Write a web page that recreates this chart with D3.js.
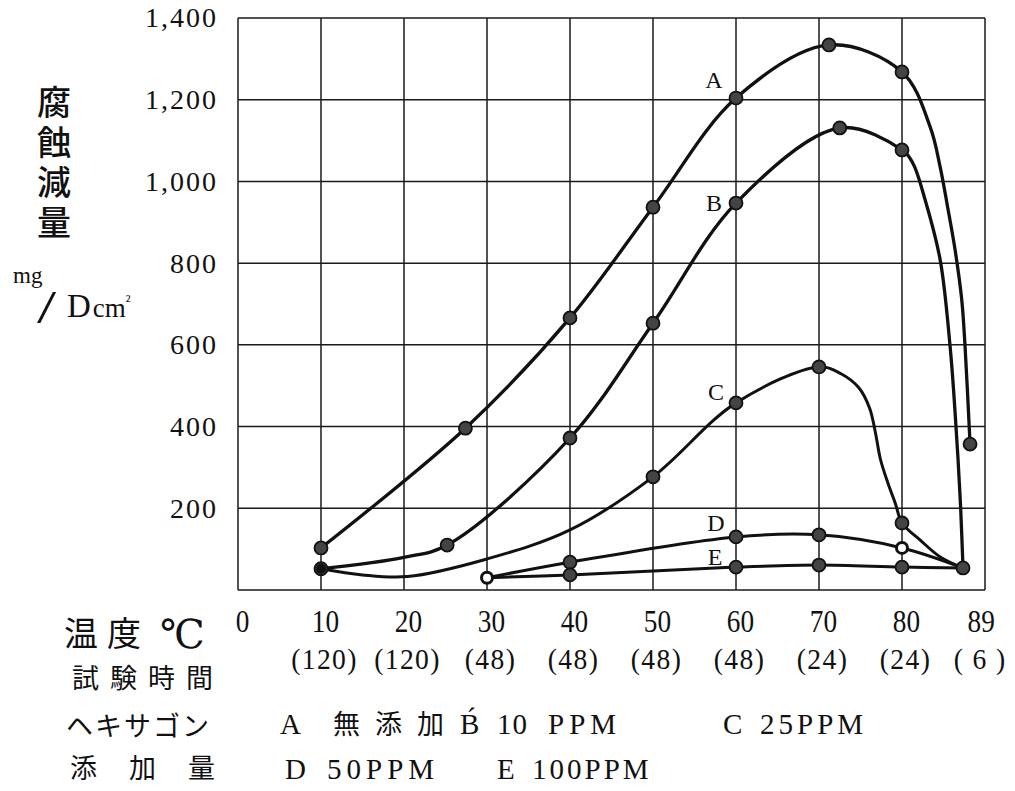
<!DOCTYPE html>
<html><head><meta charset="utf-8">
<script src="https://cdn.jsdelivr.net/npm/d3@7"></script>
<style>
body{margin:0;background:#fff}
.serif{font-family:"Liberation Serif","DejaVu Serif",serif;fill:#111}
.cjk{font-family:"Noto Sans CJK JP",sans-serif;fill:#111}
</style>
</head><body>
<svg id="chart" width="1015" height="791"></svg>
<script>
// ---------- data ----------
const tempTicks = [0,10,20,30,40,50,60,70,80,89];
const tempLabels = ["0","10","20","30","40","50","60","70","80","89"];
const timeTicks = [10,20,30,40,50,60,70,80,89];
const timeLabels = ["(120)","(120)","(48)","(48)","(48)","(48)","(24)","(24)","( 6 )"];
const yTicks = [200,400,600,800,1000,1200,1400];

// curve A: 無添加
const markersA = [[10,103],[27.4,396],[40,666],[50,937],[60,1204],[71.2,1334],[80,1268],[88.2,357]];
const pathA = [[10,103],[27.4,396],[40,666],[50,937],[60,1204],[71.2,1334],[80,1268],[83.4,1133],[84.6,1035],[85.5,937],[86.4,832],[87.2,710],[87.6,595],[88.2,357]];
// curve B: 10 PPM
const markersB = [[10,52],[25.2,110],[40,372],[50,653],[60,947],[72.5,1131],[80,1077],[87.35,54]];
const pathB = [[10,52],[20,80],[25.2,110],[40,372],[50,653],[60,947],[72.5,1131],[80,1077],[81.3,1045],[82.8,954],[84.6,808],[85.8,595],[86.4,433],[87.0,228],[87.35,54]];
// curve C: 25 PPM
const markersC = [[50,277],[60,458],[70,546],[80,164]];
const pathC = [[10,52],[15,37],[20.4,33],[30,76],[40,147],[50,277],[60,458],[70,546],[72.6,530],[74.8,495],[76.1,445],[76.8,385],[77.4,320],[78.3,262],[79.2,212],[80,164],[82.2,122],[84.6,81],[87.35,54]];
// curve D: 50 PPM
const markersD = [[40,68],[60,130],[70,135]];
const pathD = [[30,30],[40,68],[60,130],[70,135],[80,103],[87.35,54]];
// curve E: 100 PPM
const markersE = [[40,37],[60,56],[70,61],[80,56]];
const pathE = [[30,30],[40,37],[60,56],[70,61],[80,56],[87.35,54]];
// special markers
const openMarkers = [[30,30],[80,103]];
const startDot = [[10,52]];

const seriesNames = ["A","B","C","D","E"];

// ---------- layout ----------
const svg = d3.select("#chart");
const L = 238, R = 985, T = 18, B = 590;
const x = d3.scaleLinear().domain([0,90]).range([L,R]);
const y = d3.scaleLinear().domain([0,1400]).range([B,T]);

// grid
const g = svg.append("g");
g.selectAll("line.v").data(d3.range(0,91,10)).join("line")
  .attr("x1",d=>x(d)).attr("x2",d=>x(d)).attr("y1",T).attr("y2",B)
  .attr("stroke","#1a1a1a").attr("stroke-width",1.5);
g.selectAll("line.h").data(d3.range(0,1401,200)).join("line")
  .attr("x1",L).attr("x2",R).attr("y1",d=>y(d)).attr("y2",d=>y(d))
  .attr("stroke","#1a1a1a").attr("stroke-width",1.5);

// y axis
const ya = svg.append("g").attr("transform",`translate(${L},0)`)
  .call(d3.axisLeft(y).tickValues(yTicks).tickSize(0).tickPadding(20).tickFormat(d3.format(",")));
ya.select(".domain").remove();
ya.selectAll("text").attr("class","serif").attr("font-size",28).attr("letter-spacing",2).attr("fill","#111");

// x axis temps
const xa = svg.append("g").attr("transform",`translate(4,${B})`)
  .call(d3.axisBottom(x).tickValues(tempTicks).tickSize(0).tickPadding(20).tickFormat((d,i)=>tempLabels[i]));
xa.select(".domain").remove();
xa.selectAll("text").attr("class","serif").attr("font-size",31).attr("fill","#111")
  .attr("transform","scale(0.88,1)");

// x axis times
const ta = svg.append("g").attr("transform",`translate(3,${B})`)
  .call(d3.axisBottom(x).tickValues(timeTicks).tickSize(0).tickPadding(58).tickFormat((d,i)=>timeLabels[i]));
ta.select(".domain").remove();
ta.selectAll("text").attr("class","serif").attr("font-size",30).attr("fill","#111")
  .attr("letter-spacing",1.5).attr("transform","scale(0.92,1)").style("white-space","pre");

// lines
const line = d3.line().x(d=>x(d[0])).y(d=>y(d[1])).curve(d3.curveCatmullRom.alpha(0.5));
const paths = [pathA,pathB,pathC,pathD,pathE];
const widths = [3.3,3.3,3,3,3];
svg.append("g").selectAll("path").data(paths).join("path")
  .attr("d",line).attr("fill","none").attr("stroke","#111")
  .attr("stroke-width",(d,i)=>widths[i]).attr("stroke-linejoin","round");

// markers
const allMarkers = [].concat(markersA,markersB,markersC,markersD,markersE);
svg.append("g").selectAll("circle").data(allMarkers).join("circle")
  .attr("cx",d=>x(d[0])).attr("cy",d=>y(d[1])).attr("r",6.5)
  .attr("fill","#444").attr("stroke","#111").attr("stroke-width",1.8);
svg.append("g").selectAll("circle").data(openMarkers).join("circle")
  .attr("cx",d=>x(d[0])).attr("cy",d=>y(d[1])).attr("r",5.5)
  .attr("fill","#fff").attr("stroke","#111").attr("stroke-width",3);
svg.append("g").selectAll("circle").data(startDot).join("circle")
  .attr("cx",d=>x(d[0])).attr("cy",d=>y(d[1])).attr("r",5)
  .attr("fill","#111");

// series letters, placed beside the 60°C marker of each curve
const at60 = [markersA,markersB,markersC,markersD,markersE].map(m=>m.find(p=>p[0]===60));
const letterOffset = [[-22,-10],[-22,8],[-20,-3],[-20,-6],[-21,-2]];
svg.append("g").selectAll("text").data(seriesNames).join("text")
  .attr("class","serif").attr("font-size",24).attr("text-anchor","middle")
  .attr("x",(d,i)=>x(at60[i][0])+letterOffset[i][0])
  .attr("y",(d,i)=>y(at60[i][1])+letterOffset[i][1])
  .text(d=>d);

// y title (vertical writing)
svg.append("text").attr("class","cjk").attr("font-size",34).attr("font-weight",500)
  .attr("x",54).attr("y",85).attr("writing-mode","vertical-rl").attr("letter-spacing",6)
  .style("writing-mode","vertical-rl").text("腐蝕減量");

// unit
svg.append("text").attr("class","serif").attr("x",13).attr("y",283).attr("font-size",23).text("mg");
svg.append("text").attr("class","serif").attr("font-size",46).attr("transform","translate(37,323) scale(1.5,1)").text("/");
const ut = svg.append("text").attr("class","serif").attr("x",67).attr("y",317);
ut.append("tspan").attr("font-size",33).text("D");
ut.append("tspan").attr("font-size",27).attr("dx",2).text("cm");
ut.append("tspan").attr("font-size",16).attr("dy",-11).text("²");

// bottom captions
svg.append("text").attr("class","cjk").attr("x",64).attr("y",646).attr("font-size",34).attr("letter-spacing",9).text("温度");
svg.append("text").attr("class","serif").attr("x",160).attr("y",648).attr("font-size",40).text("℃");
svg.append("text").attr("class","cjk").attr("x",72).attr("y",688).attr("font-size",27).attr("letter-spacing",11).text("試験時間");
svg.append("text").attr("class","cjk").attr("x",66).attr("y",736).attr("font-size",27).attr("letter-spacing",2).text("ヘキサゴン");
svg.append("text").attr("class","cjk").attr("x",70).attr("y",778).attr("font-size",27).attr("letter-spacing",32).text("添加量");

const lg1 = 734, lg2 = 779;
const leg = [
  {t:"A", x:280, y:lg1, c:"serif", ls:0},
  {t:"無添加", x:333, y:lg1, c:"cjk", ls:15},
  {t:"B\u0301", x:460, y:lg1, c:"serif", ls:0},
  {t:"10", x:497, y:lg1, c:"serif", ls:1},
  {t:"PPM", x:548, y:lg1, c:"serif", ls:5},
  {t:"C", x:723, y:lg1, c:"serif", ls:0},
  {t:"25PPM", x:760, y:lg1, c:"serif", ls:4},
  {t:"D", x:285, y:lg2, c:"serif", ls:0},
  {t:"50PPM", x:327, y:lg2, c:"serif", ls:5},
  {t:"E", x:497, y:lg2, c:"serif", ls:0},
  {t:"100PPM", x:532, y:lg2, c:"serif", ls:3}
];
svg.append("g").selectAll("text").data(leg).join("text")
  .attr("class",d=>d.c).attr("x",d=>d.x).attr("y",d=>d.y)
  .attr("font-size",d=>d.c==="cjk"?27:29).attr("letter-spacing",d=>d.ls).text(d=>d.t);
</script>
</body></html>
